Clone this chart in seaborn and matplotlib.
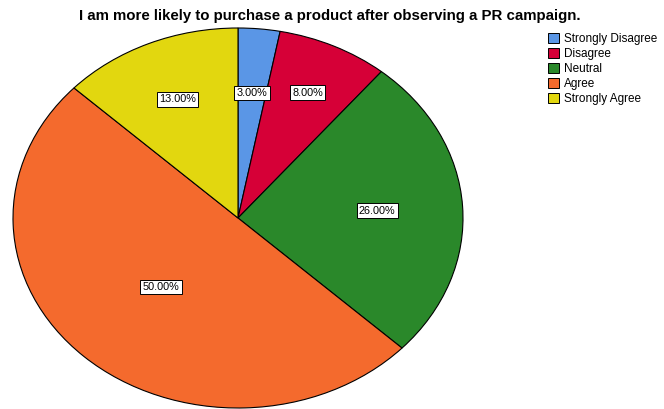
import numpy as np
import matplotlib
matplotlib.use("Agg")
import matplotlib.pyplot as plt
import seaborn as sns
from matplotlib.patches import Patch

categories = ["Strongly Disagree", "Disagree", "Neutral", "Agree", "Strongly Agree"]
percentages = [3.0, 8.0, 26.0, 50.0, 13.0]
colors = ["#5a96e6", "#d60037", "#2a882a", "#f46a2d", "#e2d70f"]
label_radii = [0.66, 0.73, 0.62, 0.50, 0.68]

sns.set_style("white")
plt.rcParams["font.family"] = ["Liberation Sans", "DejaVu Sans"]
plt.rcParams["text.color"] = "black"

fig = plt.figure(figsize=(6.64, 4.09), dpi=100)
ax = fig.add_axes([13 / 664, 1 / 409, 450 / 664, 380 / 409])

wedges, _ = ax.pie(
    percentages, colors=colors, startangle=90, counterclock=False,
    wedgeprops=dict(edgecolor="black", linewidth=0.8),
)
ax.set_aspect("auto")
ax.set_xlim(-1, 1)
ax.set_ylim(-1, 1)
ax.axis("off")

for w, pct, r in zip(wedges, percentages, label_radii):
    mid = np.deg2rad((w.theta1 + w.theta2) / 2)
    ax.text(r * np.cos(mid), r * np.sin(mid), f"{pct:.2f}%",
            ha="center", va="center", fontsize=7.8, color="black",
            bbox=dict(boxstyle="square,pad=0.2", fc="white", ec="black", lw=0.7))

fig.text(0.497, 0.96, "I am more likely to purchase a product after observing a PR campaign.",
         ha="center", va="center", fontsize=10.8, fontweight="bold", color="black")

handles = [Patch(facecolor=c, edgecolor="black", linewidth=0.7, label=l)
           for c, l in zip(colors, categories)]
fig.legend(handles=handles, loc="upper left", bbox_to_anchor=(0.826, 0.919),
           frameon=False, fontsize=8.5, handlelength=0.9, handleheight=0.9,
           handletextpad=0.4, labelspacing=0.25, borderaxespad=0, borderpad=0,
           labelcolor="black")

fig.savefig("out.png", dpi=100, facecolor="white")
